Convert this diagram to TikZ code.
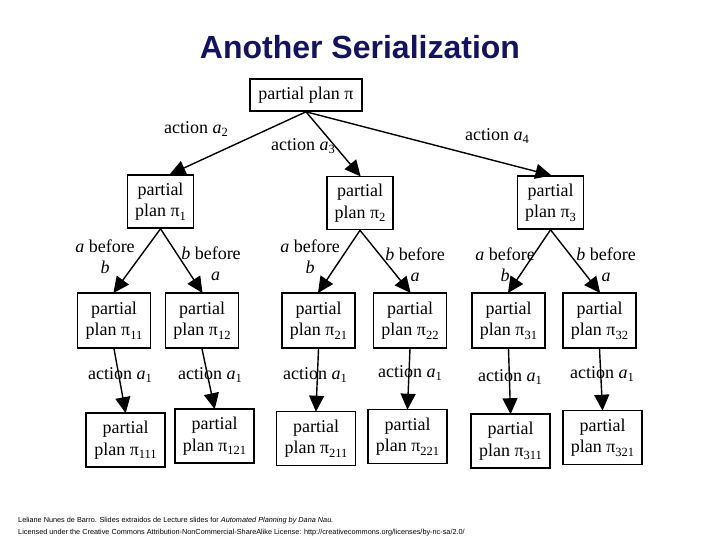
\documentclass[tikz,border=0pt]{standalone}
\usepackage{fontspec}
\setmainfont{Liberation Serif}
\newfontfamily\arialf{Liberation Sans}
\usetikzlibrary{arrows.meta}
\definecolor{titleblue}{HTML}{14145E}
\newcommand{\sbs}[1]{\raisebox{-0.45ex}{\fontsize{12.5}{12.5}\selectfont #1}}
\newcommand{\pp}[1]{partial\\plan π\sbs{#1}}
\newcommand{\act}[1]{action \textit{a}\sbs{#1}}
\tikzset{
  box/.style={draw, line width=1.6pt, align=center, inner sep=1pt, font=\fontsize{18}{21.5}\selectfont},
  lvone/.style={box, minimum width=66pt, minimum height=53pt},
  lvtwo/.style={box, minimum width=73pt, minimum height=55pt},
  lvthree/.style={box, minimum width=79pt, minimum height=54pt},
  edge/.style={line width=1.4pt, -{Triangle[length=16pt,width=15pt]}, shorten >=-1pt},
  lbl/.style={align=center, inner sep=0pt, font=\fontsize{18}{21.5}\selectfont},
}
\begin{document}
\begin{tikzpicture}[x=1pt,y=-1pt]
\useasboundingbox (0,0) rectangle (720,540);
\node[font=\arialf\bfseries\fontsize{32}{36}\selectfont, text=titleblue] (title) at (360,47) {Another Serialization};

\node[box, minimum width=112pt, minimum height=32pt] (root) at (306,95) {partial plan π};

\node[lvone] (p1) at (160.5,201.5) {\pp{1}};
\node[lvone] (p2) at (360,203) {\pp{2}};
\node[lvone] (p3) at (550.5,202.5) {\pp{3}};

\node[lvtwo] (p11) at (114,320.5) {\pp{11}};
\node[lvtwo] (p12) at (202,320.5) {\pp{12}};
\node[lvtwo] (p21) at (318.5,320.5) {\pp{21}};
\node[lvtwo] (p22) at (410,320.5) {\pp{22}};
\node[lvtwo] (p31) at (508.5,320.5) {\pp{31}};
\node[lvtwo] (p32) at (599.5,320.5) {\pp{32}};

\node[lvthree] (p111) at (125.5,440) {\pp{111}};
\node[lvthree] (p121) at (214.5,436) {\pp{121}};
\node[lvthree] (p211) at (316,438.5) {\pp{211}};
\node[lvthree] (p221) at (407.5,436.5) {\pp{221}};
\node[lvthree] (p311) at (510.5,441) {\pp{311}};
\node[lvthree] (p321) at (602.5,437.5) {\pp{321}};

\draw[edge] (root.south) -- (p1.70);
\draw[edge] (root.south) -- (p2.north);
\draw[edge] (root.south) -- (p3.north);

\foreach \a/\b in {p1/p11,p1/p12,p2/p21,p2/p22,p3/p31,p3/p32,
  p11/p111,p12/p121,p21/p211,p22/p221,p31/p311,p32/p321}
  \draw[edge] (\a.south) -- (\b.north);

\node[lbl] (la2) at (196,129) {\act{2}};
\node[lbl] (la3) at (303,146) {\act{3}};
\node[lbl] (la4) at (497,136) {\act{4}};

\node[lbl] (ab1) at (105,257) {\textit{a} before\\\textit{b}};
\node[lbl] (ba1) at (211,264) {\textit{b} before\\\ \ \textit{a}};
\node[lbl] (ab2) at (310,257) {\textit{a} before\\\textit{b}};
\node[lbl] (ba2) at (415,265) {\textit{b} before\\\textit{a}};
\node[lbl] (ab3) at (505,265) {\textit{a} before\\\textit{b}};
\node[lbl] (ba3) at (606,265) {\textit{b} before\\\textit{a}};

\node[lbl] (l1) at (120,375) {\act{1}};
\node[lbl] (l2) at (210,375) {\act{1}};
\node[lbl] (l3) at (315,375) {\act{1}};
\node[lbl] (l4) at (410,373) {\act{1}};
\node[lbl] (l5) at (510,377) {\act{1}};
\node[lbl] (l6) at (602,374) {\act{1}};

\node[anchor=north west, align=left, inner sep=0pt, font=\arialf\fontsize{7.3}{12}\selectfont] (foot) at (18,517)
  {Leliane Nunes de Barro. Slides extraidos de Lecture slides for \textit{Automated Planning by Dana Nau.}\\
   Licensed under the Creative Commons Attribution-NonCommercial-ShareAlike License: http://creativecommons.org/licenses/by-nc-sa/2.0/};
\end{tikzpicture}
\end{document}
